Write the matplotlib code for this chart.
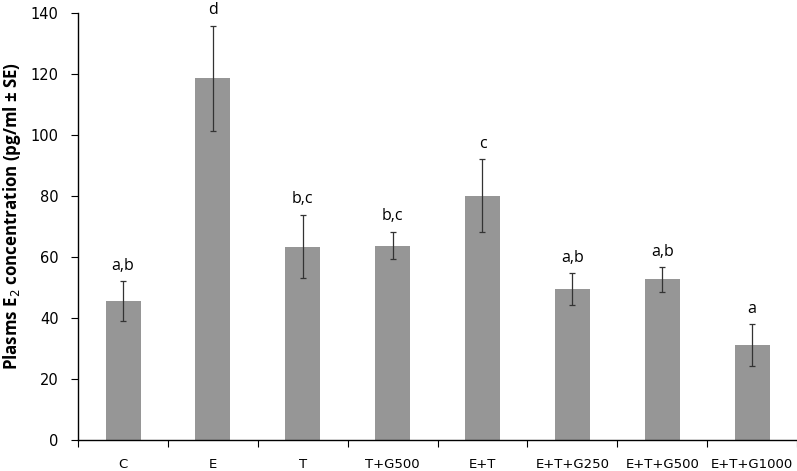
import matplotlib.pyplot as plt

groups = ["C", "E", "T", "T+G500", "E+T", "E+T+G250", "E+T+G500", "E+T+G1000"]
means = [45.5, 118.5, 63.3, 63.7, 80.0, 49.4, 52.6, 31.1]
errors = [6.5, 17.2, 10.4, 4.4, 11.9, 5.2, 4.0, 6.8]
letters = ["a,b", "d", "b,c", "b,c", "c", "a,b", "a,b", "a"]

fig = plt.figure(figsize=(7.97, 4.71), dpi=100)
ax = fig.add_axes([0.098, 0.066, 0.902, 0.907])

x = range(len(groups))
ax.bar(x, means, width=0.39, color="#969696", zorder=2)
ax.errorbar(x, means, yerr=errors, fmt="none", ecolor="#333333",
            elinewidth=0.9, capsize=2.5, capthick=0.9, zorder=3)

# significance letters above the error bars
for i, (m, e, lab) in enumerate(zip(means, errors, letters)):
    ax.annotate(lab, (i, m + e), xytext=(0, 5.5), textcoords="offset points",
                ha="center", va="bottom", fontsize=11.5, family="Open Sans")

ax.set_xlim(-0.5, len(groups) - 0.5)
ax.set_ylim(0, 140)
ax.set_yticks(range(0, 141, 20))

# ticks on category boundaries, labels at category centres
ax.set_xticks([i - 0.5 for i in range(len(groups) + 1)])
ax.set_xticklabels([])
ax.set_xticks(list(x), minor=True)
ax.set_xticklabels(groups, minor=True, fontsize=9.5)
ax.tick_params(axis="x", which="minor", length=0, pad=13)
ax.tick_params(axis="x", which="major", length=5, direction="out")
ax.tick_params(axis="y", labelsize=10.5, length=5, direction="out", pad=9)

for s in ["top", "right"]:
    ax.spines[s].set_visible(False)
ax.spines["left"].set_linewidth(1.0)
ax.spines["bottom"].set_linewidth(1.0)

ax.set_ylabel("Plasms E$_2$ concentration (pg/ml \u00b1 SE)", fontsize=12.2,
              fontweight="bold", family="Open Sans")
ax.yaxis.set_label_coords(-0.076, 0.525)

fig.savefig("out.png", dpi=100)
